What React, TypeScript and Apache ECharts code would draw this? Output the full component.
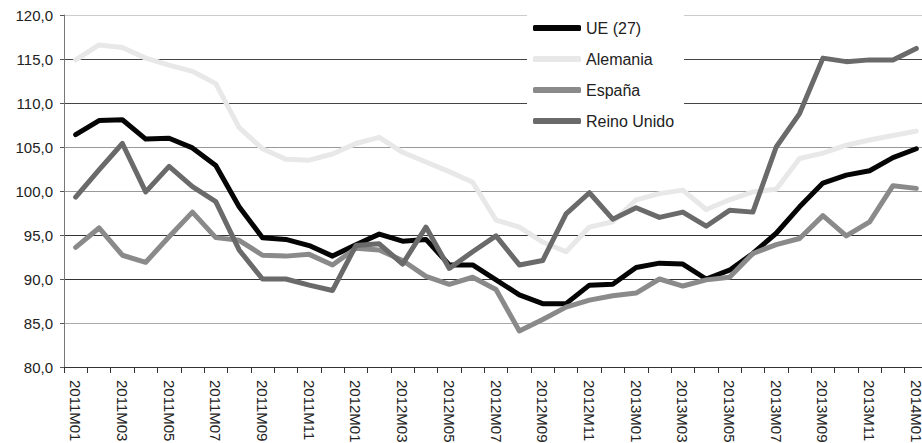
import React, { useEffect, useRef } from "react";
import * as echarts from "echarts";

const categories = [
  "2011M01", "2011M02", "2011M03", "2011M04", "2011M05", "2011M06", "2011M07", "2011M08", "2011M09", "2011M10", "2011M11", "2011M12",
  "2012M01", "2012M02", "2012M03", "2012M04", "2012M05", "2012M06", "2012M07", "2012M08", "2012M09", "2012M10", "2012M11", "2012M12",
  "2013M01", "2013M02", "2013M03", "2013M04", "2013M05", "2013M06", "2013M07", "2013M08", "2013M09", "2013M10", "2013M11", "2013M12",
  "2014M01",
];

const ue27 = [106.4, 108.0, 108.1, 105.9, 106.0, 104.9, 102.9, 98.2, 94.7, 94.5, 93.8, 92.6, 93.9, 95.1, 94.3, 94.5, 91.6, 91.6, 89.9, 88.2, 87.2, 87.2, 89.3, 89.4, 91.3, 91.8, 91.7, 90.0, 91.0, 92.9, 95.2, 98.2, 100.9, 101.8, 102.3, 103.8, 104.8];
const alemania = [114.9, 116.6, 116.3, 115.1, 114.3, 113.6, 112.2, 107.2, 104.8, 103.6, 103.5, 104.2, 105.4, 106.1, 104.4, 103.3, 102.2, 101.0, 96.7, 95.9, 94.2, 93.1, 95.9, 96.5, 99.0, 99.7, 100.1, 97.9, 99.0, 99.9, 100.2, 103.7, 104.3, 105.2, 105.8, 106.3, 106.8];
const espana = [93.6, 95.8, 92.7, 91.9, 94.8, 97.6, 94.7, 94.4, 92.7, 92.6, 92.8, 91.6, 93.5, 93.3, 92.1, 90.3, 89.4, 90.2, 88.8, 84.1, 85.4, 86.8, 87.6, 88.1, 88.4, 90.0, 89.2, 89.9, 90.2, 92.9, 93.9, 94.6, 97.2, 94.9, 96.5, 100.6, 100.3];
const reinoUnido = [99.3, 102.4, 105.4, 99.9, 102.8, 100.5, 98.8, 93.3, 90.0, 90.0, 89.3, 88.7, 93.8, 94.0, 91.7, 95.9, 91.2, 93.1, 94.9, 91.6, 92.1, 97.4, 99.8, 96.8, 98.1, 97.0, 97.6, 96.0, 97.8, 97.6, 105.0, 108.8, 115.1, 114.7, 114.9, 114.9, 116.2];

const seriesNames = ["UE (27)", "Alemania", "España", "Reino Unido"];
const seriesData = [ue27, alemania, espana, reinoUnido];
const seriesColors = ["#050505", "#e8e8e8", "#8a8a8a", "#6a6a6a"];

const yMin = 80;
const yMax = 120;
const yStep = 5;

const FONT = "'Liberation Sans', Arial, sans-serif";

export default function App() {
  const ref = useRef<HTMLDivElement>(null);

  useEffect(() => {
    document.body.style.margin = "0";
    if (!ref.current) return;
    const chart = echarts.init(ref.current, null, { renderer: "svg" });
    chart.setOption({
      animation: false,
      backgroundColor: "#ffffff",
      grid: { left: 64, top: 15, bottom: 76, right: -6, containLabel: false, outerBoundsMode: "none" },
      legend: {
        orient: "vertical",
        left: 527,
        top: 5,
        padding: [15, 10, 10, 6],
        backgroundColor: "#ffffff",
        itemGap: 15,
        itemWidth: 48,
        itemHeight: 6,
        icon: "roundRect",
        data: seriesNames,
        textStyle: { fontFamily: FONT, fontSize: 16, color: "#222", lineHeight: 16 },
      },
      xAxis: {
        type: "category",
        data: categories,
        boundaryGap: true,
        axisLine: { lineStyle: { color: "#333", width: 1 } },
        axisTick: { show: true, interval: 0, length: 6, lineStyle: { color: "#333" } },
        axisLabel: {
          interval: 1,
          rotate: -90,
          margin: 13,
          fontFamily: FONT,
          fontSize: 15,
          color: "#222",
        },
        splitLine: { show: false },
      },
      yAxis: {
        type: "value",
        min: yMin,
        max: yMax,
        interval: yStep,
        axisLine: { show: true, lineStyle: { color: "#777", width: 1 } },
        axisTick: { show: true, length: 4, lineStyle: { color: "#555" } },
        axisLabel: {
          margin: 11,
          fontFamily: FONT,
          fontSize: 15,
          color: "#222",
          formatter: (v: number) => v.toFixed(1).replace(".", ","),
        },
        splitLine: {
          show: true,
          lineStyle: {
            color: ["#555", "#aaa", "#333", "#333", "#999", "#999", "#444", "#444", "#ccc"],
            width: 1,
          },
        },
      },
      series: seriesNames.map((name, i) => ({
        name,
        type: "line",
        data: seriesData[i],
        showSymbol: false,
        symbol: "none",
        color: seriesColors[i],
        lineStyle: { width: 5, color: seriesColors[i], cap: "round", join: "round" },
        emphasis: { disabled: true },
      })),
    });
    return () => chart.dispose();
  }, []);

  return (
    <div
      ref={ref}
      style={{ position: "absolute", left: 0, top: 0, width: 922, height: 443 }}
    />
  );
}
